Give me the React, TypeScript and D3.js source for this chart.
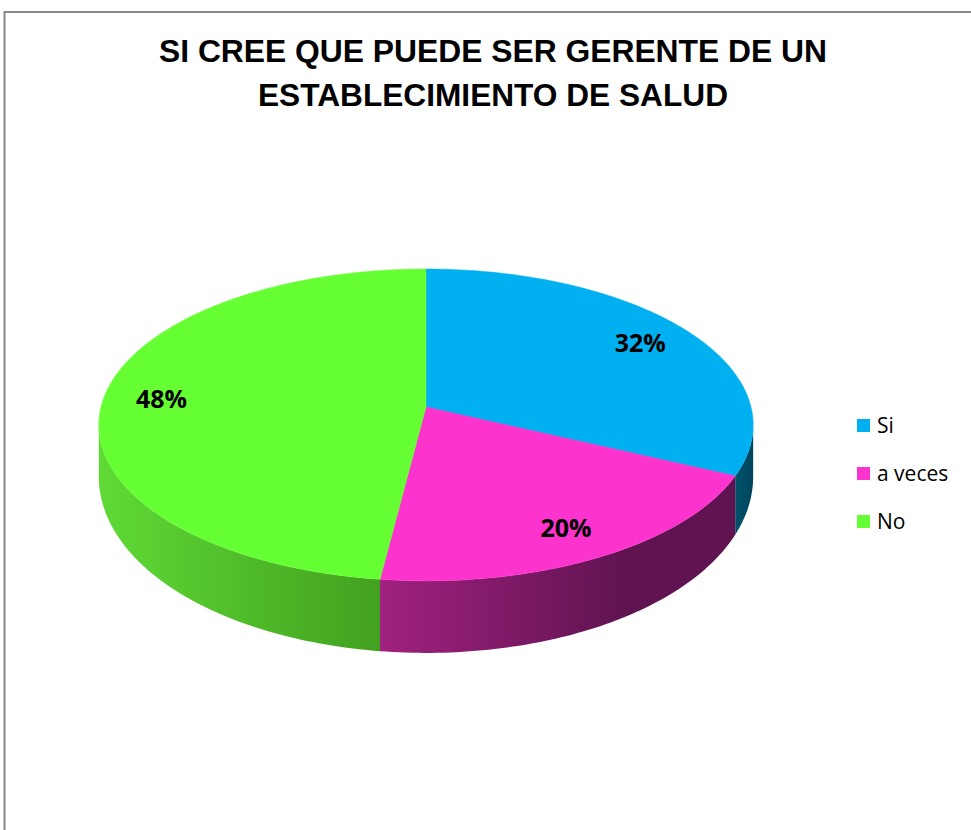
import React, { useEffect, useRef } from 'react';
import * as d3 from 'd3';

const title = ['SI CREE QUE PUEDE SER GERENTE DE UN', 'ESTABLECIMIENTO DE SALUD'];
const categories = ['Si', 'a veces', 'No'];
const values = [32, 20, 48];

const topColors = ['#00b0f0', '#fc33cc', '#66ff33'];
const wallColors = [
  ['#00526d', '#00455c'],
  ['#a0217f', '#5f1350'],
  ['#5fda35', '#42a01f'],
];

const W = 971;
const H = 830;

const App = () => {
  const ref = useRef<SVGSVGElement>(null);

  useEffect(() => {
    const svg = d3.select(ref.current);
    svg.selectAll('*').remove();

    // frame
    svg
      .append('rect')
      .attr('x', 4.5)
      .attr('y', 12)
      .attr('width', 1100)
      .attr('height', 1000)
      .attr('fill', '#fff')
      .attr('stroke', '#878787')
      .attr('stroke-width', 2);

    const t = svg
      .append('g')
      .attr('font-family', '"Liberation Sans", Arial, sans-serif')
      .attr('font-weight', 'bold')
      .attr('font-size', 31)
      .attr('text-anchor', 'middle')
      .attr('fill', '#000');
    t.append('text').attr('x', 493).attr('y', 62).attr('textLength', 668).attr('lengthAdjust', 'spacingAndGlyphs').text(title[0]);
    t.append('text').attr('x', 493).attr('y', 106).attr('textLength', 470).attr('lengthAdjust', 'spacingAndGlyphs').text(title[1]);

    // projected 3d pie
    const cx = 426;
    const cy = 407;
    const k = 0.115;
    const A = 325;
    const B = 153.9;
    const proj = (a: number, r: number): [number, number] => {
      const u = r * Math.sin(a);
      const v = -r * Math.cos(a);
      const w = 1 - k * v;
      return [cx + (A * u) / w, cy + (B * v) / w];
    };
    const depth = (a: number) => 49 + 23 * -Math.cos(a);

    const arcs = d3.pie<number>().sort(null).value((d) => d)(values);
    const steps = (s: number, e: number) => {
      const n = Math.max(2, Math.ceil(((e - s) * 180) / Math.PI));
      return d3.range(n + 1).map((i) => s + ((e - s) * i) / n);
    };

    const defs = svg.append('defs');
    const frontStart = Math.acos(-k);
    const frontEnd = 2 * Math.PI - frontStart;
    const line = d3.line();

    // walls
    arcs.forEach((d, i) => {
      const s = Math.max(d.startAngle, frontStart);
      const e = Math.min(d.endAngle, frontEnd);
      if (e <= s) return;
      const as = steps(s, e);
      const top = as.map((a) => proj(a, 1));
      const bottom = as.map((a) => { const p = proj(a, 1); return [p[0], p[1] + depth(a)] as [number, number]; }).reverse();
      const xs = top.map((p) => p[0]);
      const g = defs
        .append('linearGradient')
        .attr('id', `wall${i}`)
        .attr('gradientUnits', 'userSpaceOnUse')
        .attr('x1', d3.min(xs)!)
        .attr('x2', d3.max(xs)!)
        .attr('y1', 0)
        .attr('y2', 0);
      const light = i === 2 ? wallColors[i][0] : wallColors[i][0];
      g.append('stop').attr('offset', 0).attr('stop-color', light);
      g.append('stop').attr('offset', i === 1 ? 0.7 : 1).attr('stop-color', wallColors[i][1]);
      g.append('stop').attr('offset', 1).attr('stop-color', wallColors[i][1]);
      svg
        .append('path')
        .attr('d', line([...top, ...bottom]) + 'Z')
        .attr('fill', `url(#wall${i})`);
    });

    // tops
    arcs.forEach((d, i) => {
      const pts = steps(d.startAngle, d.endAngle).map((a) => proj(a, 1));
      svg
        .append('path')
        .attr('d', line([[cx, cy], ...pts]) + 'Z')
        .attr('fill', topColors[i])
        .attr('stroke', topColors[i])
        .attr('stroke-width', 0.5);
    });

    // labels
    arcs.forEach((d) => {
      const [x, y] = proj((d.startAngle + d.endAngle) / 2, 0.82);
      svg
        .append('text')
        .attr('x', x)
        .attr('y', y + 9)
        .attr('text-anchor', 'middle')
        .attr('font-family', '"Open Sans", sans-serif')
        .attr('font-weight', 'bold')
        .attr('font-size', 25)
        .attr('fill', '#000')
        .text(`${d.data}%`);
    });

    // legend
    const lg = svg.append('g').attr('transform', 'translate(857,419)');
    categories.forEach((c, i) => {
      const row = lg.append('g').attr('transform', `translate(0,${i * 48})`);
      row.append('rect').attr('width', 13).attr('height', 13).attr('fill', topColors[i]);
      row
        .append('text')
        .attr('x', 20)
        .attr('y', 14)
        .attr('font-family', '"Open Sans", sans-serif')
        .attr('font-size', 21)
        .attr('fill', '#000')
        .text(c);
    });
  }, []);

  return <svg ref={ref} width={W} height={H} style={{ position: 'absolute', left: 0, top: 0 }} />;
};

export default App;
